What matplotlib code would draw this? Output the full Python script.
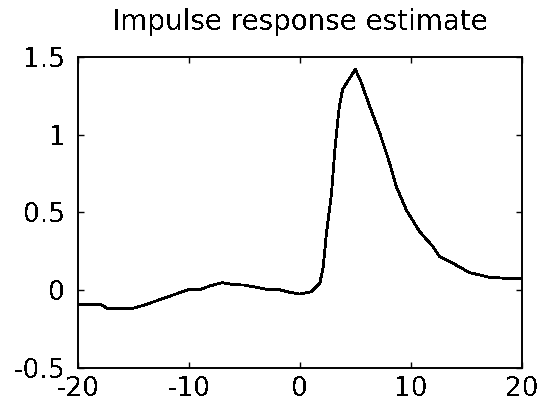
import numpy as np
import matplotlib
matplotlib.use("Agg")
import matplotlib.pyplot as plt

plt.rcParams['font.family'] = ['DejaVu Sans']
plt.rcParams['text.antialiased'] = False

# estimated impulse response vs lag
lags = [-20, -18, -17.4, -15, -14, -13, -12, -11, -10, -9, -8, -7, -6, -5, -4, -3, -2,
        -1, 0, 1, 1.8, 2.1, 2.4, 2.85, 3.15, 3.55, 3.85, 4.2, 5, 5.5, 6.3, 7.2, 8.1,
        8.7, 9.6, 10.8, 12, 12.6, 13.8, 15.3, 17.1, 18.5, 20]
resp = [-0.09, -0.09, -0.115, -0.115, -0.095, -0.07, -0.045, -0.02, 0.005, 0.005, 0.03,
        0.048, 0.036, 0.033, 0.02, 0.006, 0.006, -0.012, -0.025, -0.01, 0.045, 0.15,
        0.37, 0.62, 0.90, 1.18, 1.29, 1.33, 1.42, 1.34, 1.18, 1.01, 0.815, 0.665, 0.515,
        0.376, 0.28, 0.215, 0.173, 0.113, 0.083, 0.077, 0.077]

xticks = [-20, -10, 0, 10, 20]
xticklabels = ['-20', '-10', '0', '10', '20']
yticks = [-0.5, 0, 0.5, 1, 1.5]
yticklabels = ['-0.5', '0', '0.5', '1', '1.5']

fig = plt.figure(figsize=(5.39, 4.03), dpi=100)
ax = fig.add_axes([0.1447, 0.0868, 0.8233, 0.7722])

ax.plot(lags, resp, color='black', lw=1.3, antialiased=False)

ax.set_xlim(-20, 20)
ax.set_ylim(-0.5, 1.5)
ax.set_xticks(xticks)
ax.set_xticklabels(xticklabels)
ax.set_yticks(yticks)
ax.set_yticklabels(yticklabels)
ax.tick_params(direction='in', length=4, width=1, top=True, right=True,
               labelsize=19, colors='black')
ax.tick_params(axis='x', pad=6)
ax.tick_params(axis='y', pad=9)
for s in ax.spines.values():
    s.set_linewidth(1.4)

ax.set_title("Impulse response estimate", fontsize=20, pad=19)

fig.savefig("out.png", dpi=100)
